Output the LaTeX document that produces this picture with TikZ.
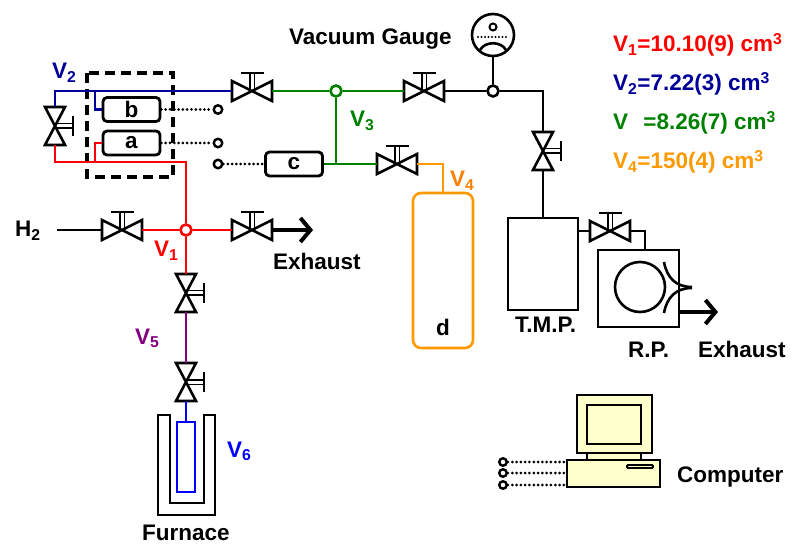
\documentclass[tikz,border=0pt]{standalone}
\usepackage{fontspec}
\setmainfont{Liberation Sans}
\usetikzlibrary{arrows.meta}
\definecolor{pred}{HTML}{FF0000}
\definecolor{pnavy}{HTML}{000099}
\definecolor{pgreen}{HTML}{008000}
\definecolor{porange}{HTML}{FF9900}
\definecolor{ppurple}{HTML}{800080}
\definecolor{pblue}{HTML}{0000FF}
\definecolor{pcream}{HTML}{FFFFCC}
\definecolor{lblorange}{HTML}{FF7F00}
\begin{document}
\begin{tikzpicture}[x=1pt,y=-1pt,
  every node/.style={font=\fontsize{22.5}{26}\selectfont\bfseries, inner sep=0pt},
  pipe/.style={line width=2.6pt},
  sym/.style={line width=2.6pt, line join=miter},
  stem/.style={line width=1.6pt},
  hval/.style={minimum width=40pt, minimum height=20pt},
  vval/.style={minimum width=20pt, minimum height=38pt},
  junc/.style={circle, draw, fill=white, line width=2.6pt, minimum size=11pt},
  term/.style={circle, draw, fill=white, line width=2.4pt, minimum size=8.5pt},
  box/.style={draw, rounded corners=4pt, line width=2.8pt, minimum width=57pt, minimum height=24pt},
  signal/.style={line width=3pt, dash pattern=on 0pt off 4.3pt, line cap=round},
  exhaust/.style={line width=4pt, -{Straight Barb[length=10pt,width=24pt]}},
  lab/.style={anchor=base west},
  pics/hvalsym/.style={code={
    \draw[sym] (-20,-10)--(20,10)--(20,-10)--(-20,10)--cycle;
    \draw[stem] (-2.3,0)--(-2.3,-18) (2.3,0)--(2.3,-18);
    \draw[sym] (-11.5,-18)--(11.5,-18);}},
  pics/vvalsym/.style={code={
    \draw[sym] (-10,-19)--(10,19)--(-10,19)--(10,-19)--cycle;
    \draw[stem] (0,-2.3)--(18,-2.3) (0,2.3)--(18,2.3);
    \draw[sym] (18,-10)--(18,10);}},
]
\useasboundingbox (0,0) rectangle (795,545);

% ---- valves ----
\node[hval] (vB) at (252,91) {};
\node[hval] (vG) at (424,91) {};
\node[hval] (vD) at (397,164) {};
\node[hval] (vTR) at (610,231) {};
\node[hval] (vH) at (122,230) {};
\node[hval] (vEx) at (252,230) {};
\node[vval] (vL) at (55,126) {};
\node[vval] (vR) at (543,151) {};
\node[vval] (vF1) at (186,293) {};
\node[vval] (vF2) at (186,382) {};
\foreach \v in {vB,vG,vD,vTR,vH,vEx} \pic at (\v) {hvalsym};
\foreach \v in {vL,vR,vF1,vF2} \pic at (\v) {vvalsym};

% ---- sensors ----
\node[box] (b) at (131.5,109.5) {b};
\node[box] (a) at (131.5,143) {a};
\node[box] (c) at (294,164) {c};
\node[term] (tb) at (218,109.5) {};
\node[term] (ta) at (218,143) {};
\node[term] (tc) at (218,164) {};
\draw[signal] (b) -- (tb);
\draw[signal] (a) -- (ta);
\draw[signal] (tc) -- (c);
\draw[line width=3.2pt, dash pattern=on 10pt off 6pt] (87,73) rectangle (173,177);

% ---- coordinates of pipe corners ----
\coordinate (cB) at (95,91);
\coordinate (cA) at (95,162);
\coordinate (cR) at (186,162);
\coordinate (cG) at (336,164);
\coordinate (h2in) at (57,230);
\coordinate (exL) at (313,230);
\coordinate (exR) at (718,312);
\coordinate (rpin) at (645,250);

% ---- vessels and pumps ----
\node[draw=porange, rounded corners=8pt, line width=2.6pt, minimum width=60pt, minimum height=155pt] (d) at (443,270.5) {};
\node[anchor=base] (dlab) at (443,335) {d};
\node[draw, line width=2.6pt, minimum width=70pt, minimum height=92pt] (tmp) at (543,264) {};
\node[draw, line width=2.6pt, minimum width=81pt, minimum height=77pt] (rp) at (638.5,288.5) {};
\node[circle, draw, line width=2.6pt, minimum size=50pt] (rotor) at (640,287) {};
\draw[sym] (664,262) .. controls (667,278) and (676,287) .. (692,287);
\draw[sym] (664,313) .. controls (667,297) and (676,288) .. (692,288);

% ---- vacuum gauge ----
\node[circle, draw, line width=2.6pt, minimum size=42pt] (gauge) at (493,35) {};
\node[circle, draw, line width=2pt, minimum size=7pt] (gdot) at (493,27) {};
\draw[line width=2.4pt, dash pattern=on 0pt off 3.5pt, line cap=round] (478,37) -- (508,37);
\draw[sym] (480,50) .. controls (485,41) and (501,41) .. (506,50);

% ---- furnace ----
\draw[line width=2.6pt] (170,415)--(158,415)--(158,515)--(215,515)--(215,415)--(204,415)--(204,503)--(170,503)--cycle;
\node[draw=pblue, line width=2.6pt, minimum width=18pt, minimum height=70pt] (tube) at (186,457) {};

% ---- pipe junctions ----
\node[junc, draw=pred] (jR) at (186,230) {};
\node[junc, draw=pgreen] (jG) at (336,91) {};
\node[junc] (jK) at (493,91) {};

% ---- pipes ----
\draw[pipe, pnavy] (vL.north) |- (vB.west);
\draw[pipe, pnavy] (cB) |- (b.west);
\draw[pipe, pred] (vL.south) |- (cR) -- (jR);
\draw[pipe, pred] (cA) |- (a.west);
\draw[pipe] (h2in) -- (vH);
\draw[pipe, pred] (vH) -- (jR);
\draw[pipe, pred] (jR) -- (vEx);
\draw[pipe, pred] (jR) -- (vF1);
\draw[pipe, ppurple] (vF1) -- (vF2);
\draw[pipe, pblue] (vF2) -- (tube);
\draw[pipe, pgreen] (vB) -- (jG);
\draw[pipe, pgreen] (jG) -- (vG);
\draw[pipe, pgreen] (jG) -- (cG);
\draw[pipe, pgreen] (c) -- (vD);
\draw[pipe, porange] (vD.east) -| (d.north);
\draw[pipe] (vG) -- (jK);
\draw[pipe] (gauge) -- (jK);
\draw[pipe] (jK) -| (vR.north);
\draw[pipe] (vR) -- (tmp);
\draw[pipe] (tmp.east |- vTR) -- (vTR);
\draw[pipe] (vTR.east) -| (rpin);
\draw[exhaust] (vEx) -- (exL);
\draw[exhaust] (rp.east |- exR) -- (exR);

% ---- computer ----
\node[draw, fill=pcream, line width=2.6pt, minimum width=54pt, minimum height=7pt] (neck) at (614,456.5) {};
\node[draw, fill=pcream, line width=2.6pt, minimum width=75pt, minimum height=58pt] (monitor) at (614.5,424) {};
\node[draw, fill=pcream, line width=2.6pt, minimum width=54pt, minimum height=39pt] (screen) at (614,424.5) {};
\node[draw, fill=pcream, line width=2.6pt, minimum width=93pt, minimum height=27pt] (base) at (613.5,473.5) {};
\node[draw, rounded corners=1pt, line width=1.8pt, minimum width=26pt, minimum height=3pt] (slot) at (640,466.5) {};
\node[term, minimum size=7.5pt] (k1) at (503,462) {};
\node[term, minimum size=7.5pt] (k2) at (503,473) {};
\node[term, minimum size=7.5pt] (k3) at (503,485) {};
\draw[signal] (k1) -- (k1 -| base.west);
\draw[signal] (k2) -- (k2 -| base.west);
\draw[signal] (k3) -- (k3 -| base.west);

% ---- labels ----
\node[lab] (tGauge) at (289,45) {Vacuum Gauge};
\node[lab, text=pnavy] (tV2) at (52,79) {V\textsubscript{2}};
\node[lab, text=pgreen] (tV3) at (350,127) {V\textsubscript{3}};
\node[lab, text=lblorange] (tV4) at (450,187) {V\textsubscript{4}};
\node[lab, text=pred] (tV1) at (154,257) {V\textsubscript{1}};
\node[lab, text=ppurple] (tV5) at (135,344) {V\textsubscript{5}};
\node[lab, text=pblue] (tV6) at (227,457) {V\textsubscript{6}};
\node[lab] (tH2) at (15,237) {H\textsubscript{2}};
\node[lab] (tEx1) at (273,270) {Exhaust};
\node[lab] (tEx2) at (698,357) {Exhaust};
\node[lab] (tTMP) at (515,332) {T.M.P.};
\node[lab] (tRP) at (628,357) {R.P.};
\node[lab] (tFur) at (142,540) {Furnace};
\node[lab] (tComp) at (677,482) {Computer};

% ---- volumes ----
\node[lab, text=pred] (L1) at (613,52) {V\textsubscript{1}=10.10(9) cm\textsuperscript{3}};
\node[lab, text=pnavy] (L2) at (613,91) {V\textsubscript{2}=7.22(3) cm\textsuperscript{3}};
\node[lab, text=pgreen] (L3) at (613,130) {V\phantom{\textsubscript{3}}\hspace{6pt}=8.26(7) cm\textsuperscript{3}};
\node[lab, text=porange] (L4) at (613,169) {V\textsubscript{4}=150(4) cm\textsuperscript{3}};
\end{tikzpicture}
\end{document}
